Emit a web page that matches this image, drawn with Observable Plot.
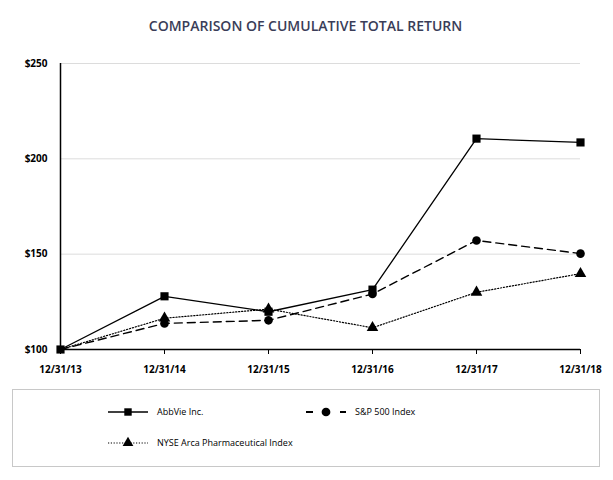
<!DOCTYPE html>
<html>
<head>
<meta charset="utf-8">
<script src="https://cdn.jsdelivr.net/npm/d3@7"></script>
<script src="https://cdn.jsdelivr.net/npm/@observablehq/plot@0.6"></script>
<style>
  body { margin: 0; background: #fff; font-family: "Open Sans", sans-serif; }
  #wrap { position: relative; width: 613px; height: 480px; }
  #title { position: absolute; top: 16px; left: 0; width: 611px; text-align: center;
           font-family: "Open Sans", sans-serif; font-weight: 600; font-size: 14px; color: #3a3d58; }
  #chart { position: absolute; top: 50px; left: 0; }
  #legend { position: absolute; top: 389px; left: 12px; width: 588px; height: 78px;
            border: 1px solid #c8c8c8; box-sizing: border-box; }
</style>
</head>
<body>
<div id="wrap">
  <div id="title">COMPARISON OF CUMULATIVE TOTAL RETURN</div>
  <div id="chart"></div>
  <div id="legend"></div>
</div>
<script>
const dates = ["12/31/13", "12/31/14", "12/31/15", "12/31/16", "12/31/17", "12/31/18"];
const abbvie = [100, 127.9, 119.8, 131.4, 210.6, 208.6];
const sp500 = [100, 113.7, 115.3, 129.1, 157.2, 150.3];
const nysePharma = [100, 116.4, 121.2, 111.4, 130.0, 139.8];
const yTicks = [100, 150, 200, 250];
const seriesNames = ["AbbVie Inc.", "S&P 500 Index", "NYSE Arca Pharmaceutical Index"];

const rows = (vals) => dates.map((d, i) => ({date: d, value: vals[i]}));
const A = rows(abbvie), S = rows(sp500), N = rows(nysePharma);

const plot = Plot.plot({
  width: 613,
  height: 330,
  marginLeft: 60,
  marginRight: 33,
  marginTop: 13,
  marginBottom: 31,
  style: {fontFamily: "Open Sans, sans-serif", fontWeight: "bold", fontSize: "10px", color: "#000"},
  x: {type: "point", domain: dates, padding: 0, label: null},
  y: {domain: [100, 250], label: null},
  marks: [
    Plot.gridY([150, 200, 250], {stroke: "#dcdcdc", strokeOpacity: 1, strokeWidth: 1}),
    Plot.axisY({ticks: yTicks, tickFormat: d => "$" + d, tickSize: 0, tickPadding: 13, fontWeight: "bold", fontSize: 10}),
    Plot.axisX({tickSize: 5, tickPadding: 11, fontWeight: "bold", fontSize: 10}),
    Plot.ruleY([100], {stroke: "#000", strokeWidth: 1.5}),
    Plot.ruleX([dates[0]], {y1: 100, y2: 250, stroke: "#000", strokeWidth: 1.5}),
    Plot.line(N, {x: "date", y: "value", stroke: "#000", strokeWidth: 1.2, strokeDasharray: "1.2,1.8"}),
    Plot.line(S, {x: "date", y: "value", stroke: "#000", strokeWidth: 1.4, strokeDasharray: "8,5"}),
    Plot.line(A, {x: "date", y: "value", stroke: "#000", strokeWidth: 1.3}),
    Plot.dot(N.slice(1), {x: "date", y: "value", symbol: "triangle", r: 4.3, fill: "#000", stroke: "none"}),
    Plot.dot(S.slice(1), {x: "date", y: "value", symbol: "circle", r: 4.3, fill: "#000", stroke: "none"}),
    Plot.dot(A, {x: "date", y: "value", symbol: "square", r: 4.6, fill: "#000", stroke: "none"})
  ]
});
document.getElementById("chart").appendChild(plot);

// Legend
const leg = d3.select("#legend").append("svg").attr("width", 586).attr("height", 76)
  .style("font-family", "Open Sans, sans-serif").style("font-size", "9px");
const entries = [
  {name: seriesNames[0], x: 95, y: 22, kind: "solid", sym: d3.symbolSquare, size: 55},
  {name: seriesNames[1], x: 293, y: 22, kind: "dash", sym: d3.symbolCircle, size: 60},
  {name: seriesNames[2], x: 95, y: 53, kind: "dot", sym: d3.symbolTriangle, size: 50}
];
entries.forEach(e => {
  if (e.kind === "dash") {
    leg.append("line").attr("x1", e.x).attr("x2", e.x + 7).attr("y1", e.y).attr("y2", e.y)
      .attr("stroke", "#000").attr("stroke-width", 2);
    leg.append("line").attr("x1", e.x + 34).attr("x2", e.x + 40).attr("y1", e.y).attr("y2", e.y)
      .attr("stroke", "#000").attr("stroke-width", 2);
    leg.append("path").attr("d", d3.symbol(e.sym, e.size)()).attr("transform", `translate(${e.x + 20},${e.y})`).attr("fill", "#000");
    leg.append("text").attr("x", e.x + 49).attr("y", e.y).attr("dy", "0.35em").text(e.name).attr("fill", "#000");
  } else {
    const l = leg.append("line").attr("x1", e.x).attr("x2", e.x + 40).attr("y1", e.y).attr("y2", e.y)
      .attr("stroke", "#000").attr("stroke-width", e.kind === "solid" ? 1.6 : 1.1);
    if (e.kind === "dot") l.attr("stroke-dasharray", "1.2,1.6");
    leg.append("path").attr("d", d3.symbol(e.sym, e.size)()).attr("transform", `translate(${e.x + 20},${e.y})`).attr("fill", "#000");
    leg.append("text").attr("x", e.x + 49).attr("y", e.y).attr("dy", "0.35em").text(e.name).attr("fill", "#000");
  }
});
</script>
</body>
</html>
